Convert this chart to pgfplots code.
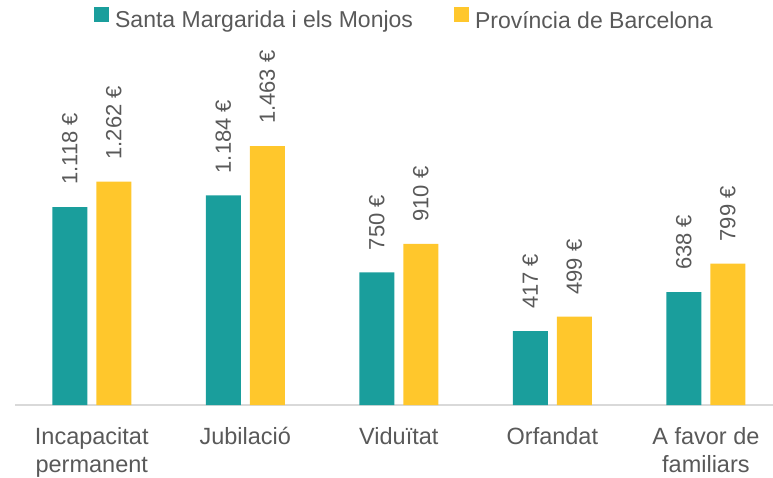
\documentclass[border=0pt]{standalone}
\usepackage{pgfplots}
\pgfplotsset{compat=1.18}
\usepackage{fontspec}
\setmainfont{Liberation Sans}
\definecolor{teal1}{HTML}{1A9E9C}
\definecolor{gold1}{HTML}{FFC72C}
\definecolor{txt}{HTML}{595959}
\definecolor{axl}{HTML}{D9D9D9}
\begin{document}
\begin{tikzpicture}[x=1pt,y=1pt]
\useasboundingbox (0,0) rectangle (773,477);
\begin{axis}[
  at={(15pt,72pt)}, anchor=south west,
  scale only axis, width=758pt, height=283.2pt,
  xmin=-0.5, xmax=4.437, ymin=0, ymax=1600,
  axis x line*=bottom, axis y line=none,
  axis line style={draw=axl, line width=1.3pt},
  xtick={0,1,2,3,4},
  xticklabels={Incapacitat\\permanent, Jubilació, Viduïtat, Orfandat, A favor de\\familiars},
  major tick length=0pt,
  xticklabel style={align=center, font=\fontsize{23.5}{28}\selectfont, text=txt, yshift=-19pt},
  ybar, bar width=35pt,
  clip=false,
  /pgf/number format/assume math mode=true,
  /pgf/number format/1000 sep={.},
  nodes near coords={\pgfmathprintnumber{\pgfplotspointmeta}~€},
  every node near coord/.append style={font=\fontsize{22}{26}\selectfont, text=txt, yshift=22pt, rotate=90, anchor=west, inner sep=0pt},
  legend columns=2,
  legend style={at={(axis cs:2.04,2175)}, anchor=center, draw=none, fill=none,
    font=\fontsize{23}{27}\selectfont, text=txt, inner sep=0pt,
    nodes={inner sep=3pt},
    /tikz/every even column/.append style={column sep=38pt}},
  legend image code/.code={\fill[#1] (0pt,-1.5pt) rectangle (14.5pt,13pt); \path (18pt,0pt);},
]
\addplot[fill=teal1, draw=none, bar shift=-22pt] coordinates {(0,1118) (1,1184) (2,750) (3,417) (4,638)};
\addplot[fill=gold1, draw=none, bar shift=22pt] coordinates {(0,1262) (1,1463) (2,910) (3,499) (4,799)};
\legend{Santa Margarida i els Monjos, Província de Barcelona}
\end{axis}
\end{tikzpicture}
\end{document}
